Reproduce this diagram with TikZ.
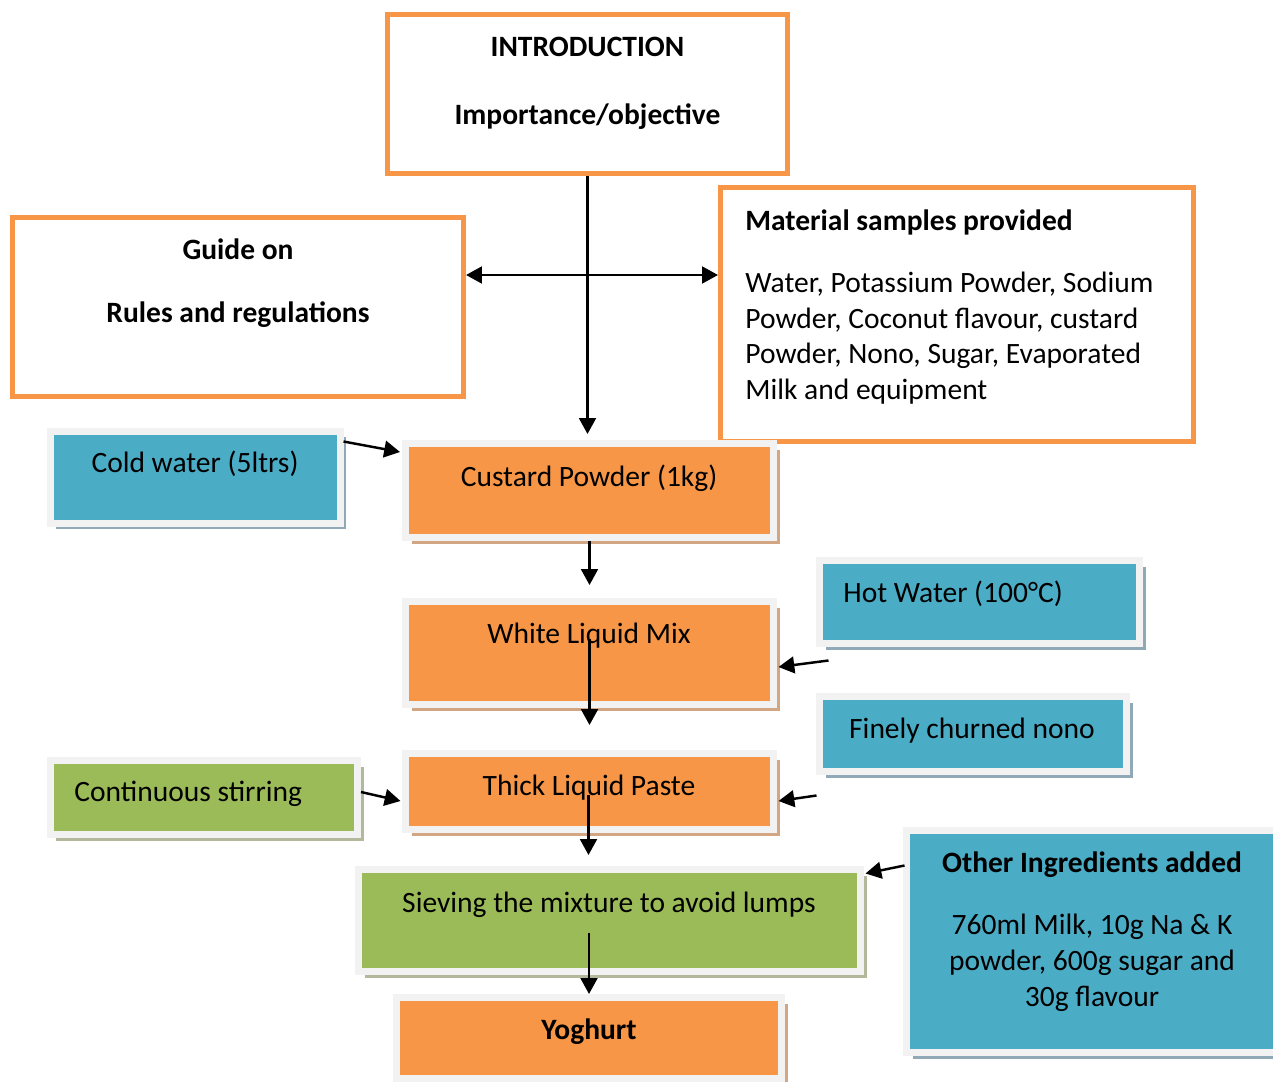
\documentclass[tikz,border=0pt]{standalone}
\usepackage{fontspec}
\setmainfont{Carlito}
\usepackage{tikz}
\usetikzlibrary{arrows.meta,calc,shadows}

\definecolor{boxorange}{HTML}{F79646}
\definecolor{boxblue}{HTML}{4BACC6}
\definecolor{boxgreen}{HTML}{9BBB59}
\definecolor{boxframe}{HTML}{F2F2F2}
\definecolor{shblue}{HTML}{8FAAB6}
\definecolor{shorange}{HTML}{D2A682}
\definecolor{shgreen}{HTML}{B2B89A}

\tikzset{boxsize/.style 2 args={minimum width=#1*0.02cm,minimum height=#2*0.02cm}}

\begin{document}
\begin{tikzpicture}[x=0.02cm,y=-0.02cm,font=\fontsize{16.8}{20.2}\selectfont]
\tikzstyle{outline}=[draw=boxorange,line width=0.1cm,fill=white,inner sep=0pt];
\tikzstyle{card}=[draw=boxframe,line width=0.14cm,inner sep=0pt];
\tikzstyle{blueshadow}=[general shadow={fill=shblue,shadow xshift=0.12cm,shadow yshift=-0.12cm}];
\tikzstyle{orangeshadow}=[general shadow={fill=shorange,shadow xshift=0.12cm,shadow yshift=-0.12cm}];
\tikzstyle{greenshadow}=[general shadow={fill=shgreen,shadow xshift=0.12cm,shadow yshift=-0.12cm}];
\tikzstyle{txt}=[inner sep=0pt,anchor=base];
\tikzstyle{ltxt}=[txt,anchor=base west];
\tikzstyle{hd}=[txt,font=\fontsize{16.8}{20.2}\selectfont\bfseries];
\tikzstyle{arr}=[line width=1.4pt,-{Triangle[length=9pt,width=9.5pt]}];

\useasboundingbox (0,0) rectangle (1273,1081);

% outlined boxes
\node[outline,boxsize={400}{159}] (intro) at (587.5,94) {};
\node[hd] (introa) at (587.5,56.5) {INTRODUCTION};
\node[hd] (introb) at (587.5,124.5) {Importance/objective};

\node[outline,boxsize={451}{179}] (guide) at (238,307) {};
\node[hd] (guidea) at (238,259.5) {Guide on};
\node[hd] (guideb) at (238,322.5) {Rules and regulations};

\node[outline,boxsize={473}{254}] (material) at (957,314.5) {};
\node[hd,anchor=base west] (mathd) at (745,230.5) {Material samples provided};
\foreach \line [count=\i] in {{Water, Potassium Powder, Sodium},{Powder, Coconut flavour, custard},{Powder, Nono, Sugar, Evaporated},{Milk and equipment}}
  \node[ltxt] (mat\i) at (745,{256.8+35.7*\i}) {\line};

% filled boxes
\node[card,fill=boxblue,blueshadow,boxsize={290}{92}] (cold) at (195,477) {};
\node[txt] (coldt) at (195,472.5) {Cold water (5ltrs)};

\node[card,fill=boxorange,orangeshadow,boxsize={368}{94}] (custard) at (589.5,490.5) {};
\node[txt] (custardt) at (589,486.5) {Custard Powder (1kg)};

\node[card,fill=boxblue,blueshadow,boxsize={320}{83}] (hot) at (979.5,602) {};
\node[ltxt] (hott) at (843,602.5) {Hot Water (100°C)};

\node[card,fill=boxorange,orangeshadow,boxsize={368}{103}] (white) at (589.5,653) {};
\node[txt] (whitet) at (589,643.5) {White Liquid Mix};

\node[card,fill=boxblue,blueshadow,boxsize={307}{75}] (finely) at (973,734) {};
\node[txt] (finelyt) at (972,738.5) {Finely churned nono};

\node[card,fill=boxgreen,greenshadow,boxsize={307}{74}] (stir) at (204,797.5) {};
\node[ltxt] (stirt) at (74,801.5) {Continuous stirring};

\node[card,fill=boxorange,orangeshadow,boxsize={368}{76}] (thick) at (589.5,791.5) {};
\node[txt] (thickt) at (589,795.5) {Thick Liquid Paste};

\node[card,fill=boxgreen,greenshadow,boxsize={502}{102}] (sieve) at (609.5,920.5) {};
\node[txt] (sievet) at (609,912.5) {Sieving the mixture to avoid lumps};

\node[card,fill=boxblue,blueshadow,boxsize={373}{222}] (other) at (1093,941.5) {};
\node[hd] (otherhd) at (1092,872.5) {Other Ingredients added};
\foreach \line [count=\i] in {{760ml Milk, 10g Na \& K},{powder, 600g sugar and},{30g flavour}}
  \node[txt] (oth\i) at (1092,{898.5+36*\i}) {\line};

\node[card,fill=boxorange,orangeshadow,boxsize={385}{81}] (yog) at (589,1038) {};
\node[hd] (yogt) at (589,1039.5) {Yoghurt};

% connectors
\coordinate (split) at (587.5,275);
\draw[arr] (intro.south) -- ($(intro.south |- custard.north)+(0,-6)$);
\draw[line width=1.4pt,{Triangle[length=9pt,width=9.5pt]}-{Triangle[length=9pt,width=9.5pt]}] (guide.east |- split) -- (material.west |- split);
\draw[arr] ($(cold.north east)+(0,14)$) -- ($(custard.north west)+(-2,12)$);
\draw[arr] (custard.south) -- ($(custard.south |- white.north)+(0,-13)$);
\draw[arr] ($(white.center)+(0,-14)$) -- ($(white.south)+(0,17)$);
\draw[arr] ($(hot.south west)+(12.5,13.5)$) -- ($(white.east)+(1.5,14)$);
\draw[arr] ($(finely.south west)+(0.5,20.5)$) -- ($(thick.east)+(1.5,9.5)$);
\draw[arr] ($(stir.east)+(0,-5.5)$) -- ($(thick.west)+(-1.5,9.5)$);
\draw[arr] ($(thick.center)+(-1,3)$) -- ($(thick.center |- sieve.north)+(-1,-11)$);
\draw[arr] ($(other.north west)+(1.5,38.5)$) -- ($(sieve.north east)+(1.5,7.5)$);
\draw[arr] ($(yog.north |- sieve.center)+(0,12)$) -- (yog.north);
\end{tikzpicture}
\end{document}
